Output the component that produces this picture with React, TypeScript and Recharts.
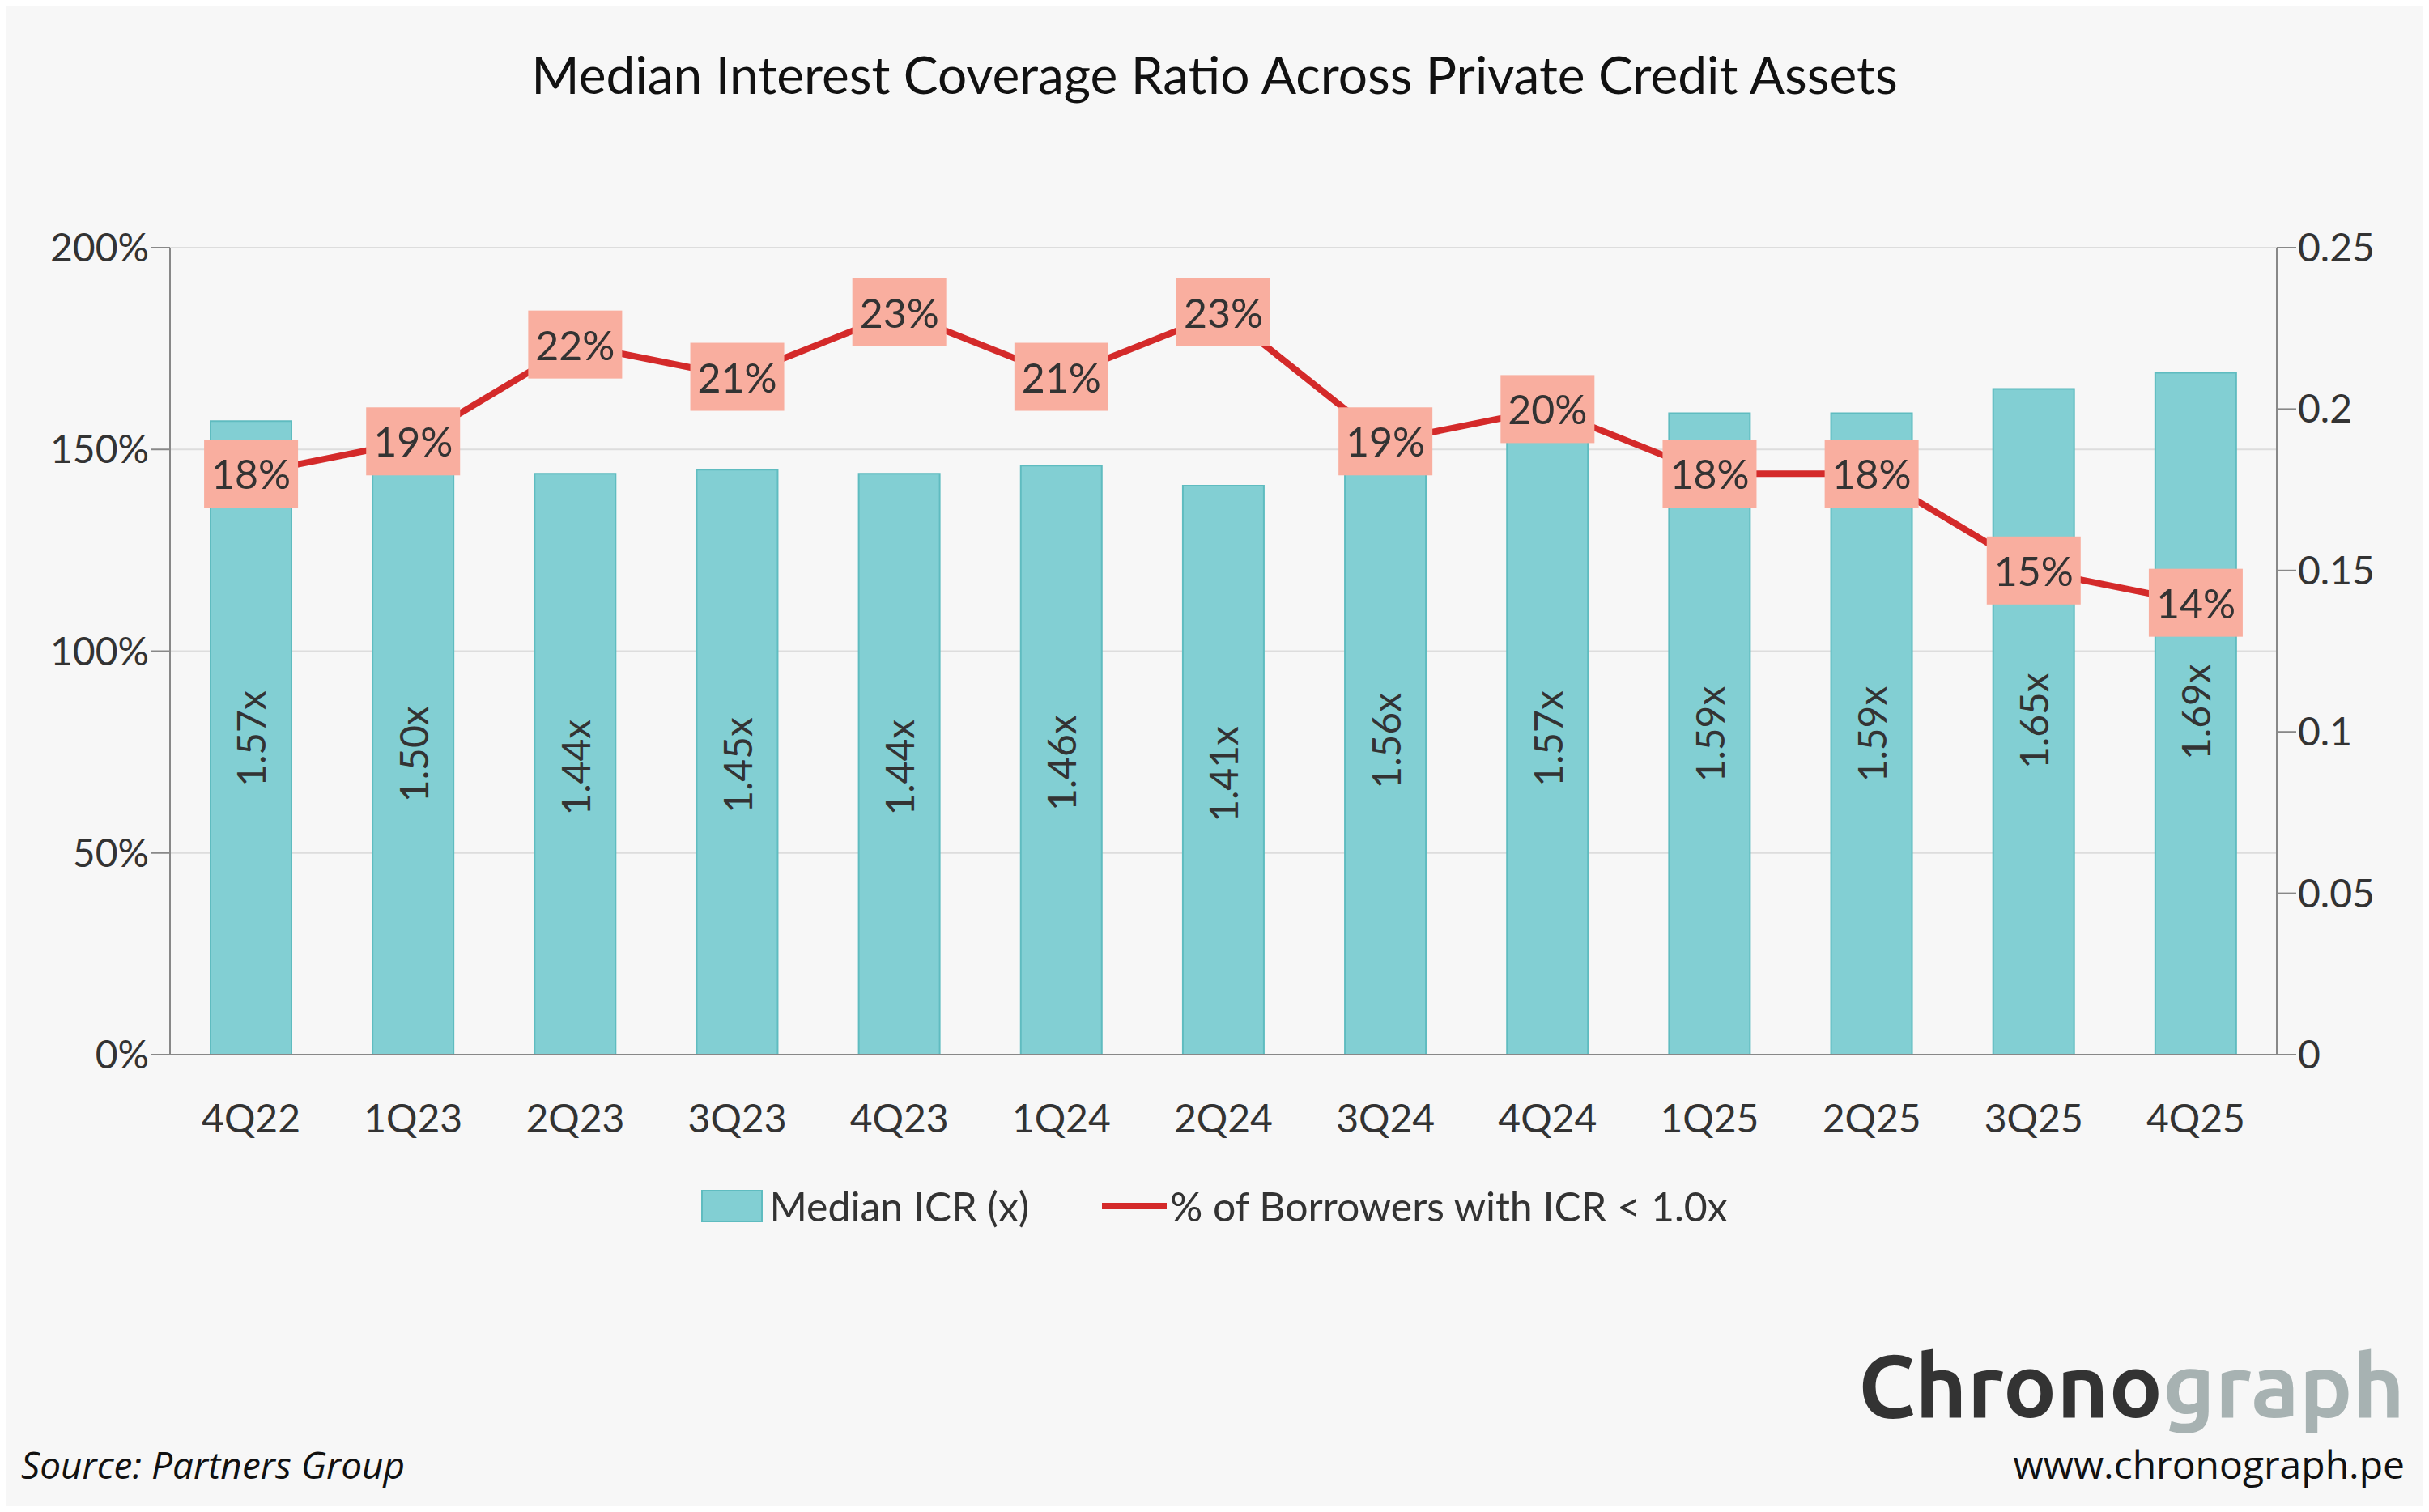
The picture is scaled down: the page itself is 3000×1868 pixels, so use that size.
import { ComposedChart, Bar, Line, XAxis, YAxis, CartesianGrid, LabelList } from "recharts";

const quarters = ["4Q22", "1Q23", "2Q23", "3Q23", "4Q23", "1Q24", "2Q24", "3Q24", "4Q24", "1Q25", "2Q25", "3Q25", "4Q25"];
const medianIcr = [1.57, 1.5, 1.44, 1.45, 1.44, 1.46, 1.41, 1.56, 1.57, 1.59, 1.59, 1.65, 1.69];
const shareBelowOne = [0.18, 0.19, 0.22, 0.21, 0.23, 0.21, 0.23, 0.19, 0.2, 0.18, 0.18, 0.15, 0.14];
const leftTicks = [0, 50, 100, 150, 200];
const rightTicks = [0, 0.05, 0.1, 0.15, 0.2, 0.25];

const data = quarters.map((q, i) => ({ q, icr: medianIcr[i] * 100, share: shareBelowOne[i] }));

const FONT = "Lato, 'Noto Sans', sans-serif";

const BarLabel = (props: any) => {
  const { x, y, width, height, value } = props;
  if (value == null) return null;
  const cx = Number(x) + Number(width) / 2;
  const cy = Number(y) + Number(height) * 0.45 + 40;
  return (
    <text x={cx} y={cy} transform={`rotate(-90 ${cx} ${cy})`} textAnchor="middle" dominantBaseline="central"
      fontSize={48} fill="#333" fontFamily={FONT}>
      {(Number(value) / 100).toFixed(2)}x
    </text>
  );
};

const LineLabel = (props: any) => {
  const { x, y, value } = props;
  return (
    <g>
      <rect x={x - 58} y={y - 42} width={116} height={84} fill="#f9ae9f" />
      <text x={x} y={y} textAnchor="middle" dominantBaseline="central" fontSize={50} fill="#333" fontFamily={FONT}>
        {Math.round(value * 100)}%
      </text>
    </g>
  );
};

export default function App() {
  return (
    <div style={{ position: "relative", width: 2984, height: 1852, background: "#f7f7f7", fontFamily: FONT }}>
      <div style={{ position: "absolute", top: 45, left: 0, width: 2984, textAlign: "center", fontSize: 64, color: "#111" }}>
        Median Interest Coverage Ratio Across Private Credit Assets
      </div>
      <div style={{ position: "absolute", top: 0, left: 0 }}>
        <ComposedChart width={2984} height={1420} data={data} margin={{ top: 298, right: 10, left: 22, bottom: 25 }}>
          <CartesianGrid vertical={false} stroke="#dddddd" strokeWidth={2} yAxisId="left" />
          <XAxis dataKey="q" height={100} tickLine={false} axisLine={{ stroke: "#888", strokeWidth: 2 }}
            tick={{ fontSize: 48, fill: "#333", fontFamily: FONT }} tickMargin={56} />
          <YAxis yAxisId="left" domain={[0, 200]} ticks={leftTicks} width={180} tickFormatter={(v) => `${v}%`}
            axisLine={{ stroke: "#888", strokeWidth: 2 }} tickLine={{ stroke: "#888", strokeWidth: 2 }} tickSize={24}
            tick={{ fontSize: 48, fill: "#333", fontFamily: FONT }} />
          <YAxis yAxisId="right" orientation="right" domain={[0, 0.25]} ticks={rightTicks} width={170}
            tickFormatter={(v) => `${v}`} axisLine={{ stroke: "#888", strokeWidth: 2 }} tickLine={{ stroke: "#888", strokeWidth: 2 }} tickSize={24}
            tick={{ fontSize: 48, fill: "#333", fontFamily: FONT }} />
          <Bar yAxisId="left" dataKey="icr" barSize={100} fill="#82cfd3" stroke="#5fbcc0" strokeWidth={2} isAnimationActive={false}>
            <LabelList dataKey="icr" content={BarLabel} />
          </Bar>
          <Line yAxisId="right" dataKey="share" stroke="#d42a2a" strokeWidth={8} dot={false} isAnimationActive={false}>
            <LabelList dataKey="share" content={LineLabel} />
          </Line>
        </ComposedChart>
      </div>
      <div style={{ position: "absolute", top: 1452, left: 0, width: 2984, display: "flex", justifyContent: "center", alignItems: "center", fontSize: 50, color: "#333" }}>
        <span style={{ display: "inline-block", width: 72, height: 36, background: "#82cfd3", border: "2px solid #5fbcc0", marginRight: 8 }} />
        <span style={{ marginRight: 90 }}>Median ICR (x)</span>
        <span style={{ display: "inline-block", width: 80, height: 8, background: "#d42a2a", marginRight: 4 }} />
        <span>% of Borrowers with ICR &lt; 1.0x</span>
      </div>
      <div style={{ position: "absolute", top: 1640, right: 22, fontSize: 110, fontWeight: 700, fontFamily: "Ubuntu, 'Open Sans', sans-serif" }}>
        <span style={{ color: "#333" }}>Chrono</span><span style={{ color: "#a7b2b2" }}>graph</span>
      </div>
      <div style={{ position: "absolute", top: 1768, right: 22, fontSize: 48, color: "#111", fontFamily: "'Open Sans', sans-serif" }}>
        www.chronograph.pe
      </div>
      <div style={{ position: "absolute", top: 1770, left: 18, fontSize: 46, fontStyle: "italic", color: "#111", fontFamily: "'Open Sans', sans-serif" }}>
        Source: Partners Group
      </div>
    </div>
  );
}
